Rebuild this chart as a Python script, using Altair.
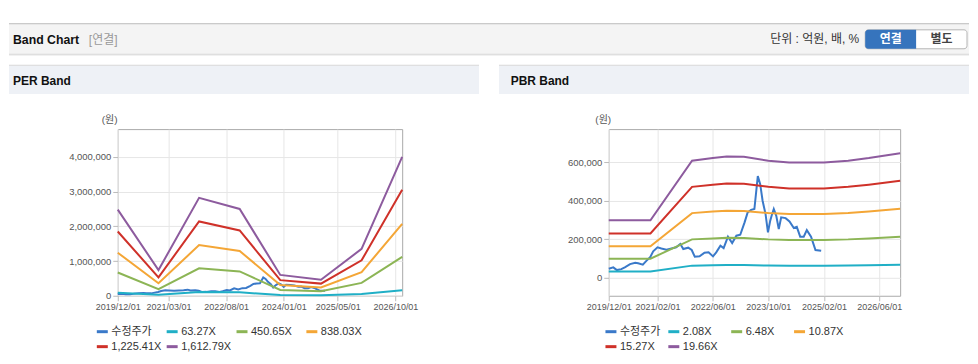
import altair as alt
import pandas as pd

FONT = "Liberation Sans, Noto Sans CJK KR, sans-serif"

# ---------------- data ----------------
PRICE_LABEL = "수정주가"
PRICE_DATES = [
    "2019-12-01", "2020-01-10", "2020-02-10", "2020-03-20", "2020-04-20", "2020-06-05",
    "2020-07-20", "2020-08-15", "2020-09-25", "2020-10-28", "2020-11-28", "2020-12-25",
    "2021-02-01", "2021-03-07", "2021-04-20", "2021-06-03", "2021-07-15", "2021-08-20",
    "2021-09-15", "2021-10-28", "2021-11-28", "2021-12-25", "2022-02-05", "2022-03-20",
    "2022-04-25", "2022-06-03", "2022-07-01", "2022-08-07", "2022-09-04", "2022-10-12",
    "2022-11-18", "2022-12-25", "2023-01-28", "2023-03-07", "2023-04-03", "2023-05-03",
    "2023-06-01", "2023-07-01", "2023-07-22", "2023-08-12", "2023-09-07", "2023-09-28",
    "2023-10-18", "2023-11-01", "2023-11-18", "2023-12-10", "2024-01-01", "2024-01-22",
    "2024-03-01", "2024-04-04", "2024-05-12", "2024-06-07", "2024-07-07", "2024-08-07",
    "2024-09-03", "2024-10-10", "2024-11-18", "2025-01-07",
]
PRICE = [
    48000, 55000, 41000, 46000, 55000, 72000,
    79000, 76000, 69000, 90000, 107000, 138000,
    159000, 153000, 147000, 153000, 159000, 176000,
    150000, 157000, 145000, 110000, 112000, 131000,
    133000, 112000, 133000, 167000, 155000, 214000,
    181000, 219000, 224000, 288000, 340000, 353000,
    357000, 528000, 486000, 400000, 331000, 236000,
    297000, 326000, 357000, 322000, 253000, 314000,
    310000, 293000, 259000, 265000, 214000, 214000,
    248000, 214000, 145000, 141000,
]

PER_LABELS = ["63.27X", "450.65X", "838.03X", "1,225.41X", "1,612.79X"]
PER_DATES = ["2019-12-01", "2020-12-01", "2021-12-01", "2022-12-01",
             "2023-12-01", "2024-12-01", "2025-12-01", "2026-12-01"]
PER_1 = [90000, 28000, 110000, 98000, 24000, 18000, 53000, 162000]
PER_2 = [670000, 190000, 790000, 700000, 165000, 130000, 370000, 1120000]
PER_3 = [1240000, 360000, 1460000, 1290000, 310000, 240000, 680000, 2070000]
PER_4 = [1850000, 530000, 2140000, 1880000, 450000, 350000, 1020000, 3050000]
PER_5 = [2480000, 740000, 2820000, 2500000, 600000, 460000, 1350000, 4000000]

PBR_LABELS = ["2.08X", "6.48X", "10.87X", "15.27X", "19.66X"]
PBR_DATES = ["2019-12-01", "2020-12-01", "2021-12-01", "2022-06-01", "2022-10-01",
             "2023-03-01", "2023-10-01", "2024-04-01", "2025-02-01", "2025-09-01",
             "2026-03-01", "2026-12-01"]
PBR_1 = [34000, 34000, 64000, 66000, 67000, 67000, 64500, 63500, 63500, 64500, 66000, 68500]
PBR_2 = [100000, 100000, 200000, 205000, 208000, 207000, 200000, 197000, 197000, 200000, 205000, 214000]
PBR_3 = [164000, 164000, 336000, 344000, 348000, 347000, 336000, 331000, 331000, 336000, 344000, 359000]
PBR_4 = [231000, 231000, 472000, 483000, 489000, 488000, 472000, 464000, 464000, 472000, 483000, 503000]
PBR_5 = [299000, 299000, 607000, 621000, 629000, 628000, 607000, 598000, 598000, 607000, 621000, 646000]

PER_XTICKS = [(2019, 12), (2021, 3), (2022, 8), (2024, 1), (2025, 5), (2026, 10)]
PBR_XTICKS = [(2019, 12), (2021, 2), (2022, 6), (2023, 10), (2025, 2), (2026, 6)]
PER_YTICKS = [0, 1000000, 2000000, 3000000, 4000000]
PBR_YTICKS = [0, 200000, 400000, 600000]

COLORS = ["#3a79c9", "#20afc6", "#8cb555", "#f4a636", "#cf3129", "#8d5b9e"]

ONE = pd.DataFrame({"k": [0]})


def build_df(band_dates, bands, labels):
    parts = [pd.DataFrame({"date": pd.to_datetime(PRICE_DATES), "value": PRICE,
                           "series": PRICE_LABEL})]
    for vals, lab in zip(bands, labels):
        parts.append(pd.DataFrame({"date": pd.to_datetime(band_dates), "value": vals,
                                   "series": lab}))
    return pd.concat(parts, ignore_index=True)


def rect(x1, x2, y1, y2, fill, **kw):
    return alt.Chart(ONE).mark_rect(fill=fill, **kw).encode(
        x=alt.value(x1), x2=alt.value(x2), y=alt.value(y1), y2=alt.value(y2))


def text(x, y, s, size=12, color="#111", weight="normal", align="left"):
    return alt.Chart(ONE).mark_text(text=s, fontSize=size, color=color, fontWeight=weight,
                                    align=align, baseline="middle", font=FONT).encode(
        x=alt.value(x), y=alt.value(y))


def lines(df, labels, width, ydomain, yticks, xticks, title_x, legend_x, col_pad):
    domain = [PRICE_LABEL] + labels
    return alt.Chart(df).mark_line(strokeWidth=2).encode(
        x=alt.X("date:T", title=None,
                scale=alt.Scale(domain=[alt.DateTime(year=2019, month=12, date=1),
                                        alt.DateTime(year=2026, month=12, date=1)]),
                axis=alt.Axis(values=[alt.DateTime(year=y, month=m, date=1) for y, m in xticks],
                              format="%Y/%m/%d", labelOverlap=False, labelFlush=False)),
        y=alt.Y("value:Q",
                scale=alt.Scale(domain=ydomain, nice=False, zero=False),
                axis=alt.Axis(values=yticks, format=",.0f", title="(원)", titleAngle=0,
                              labelFontSize=9.5,
                              titleX=title_x, titleY=-10, titleAlign="center",
                              titleBaseline="middle", titleFontSize=10,
                              titleFontWeight="normal", titleColor="#555")),
        color=alt.Color("series:N", sort=domain,
                        scale=alt.Scale(domain=domain, range=COLORS),
                        legend=alt.Legend(orient="none", legendX=legend_x, legendY=196,
                                          direction="horizontal",
                                          columns=4, gridAlign="all", symbolType="stroke",
                                          symbolSize=121, symbolStrokeWidth=3,
                                          labelFontSize=11, labelFont=FONT,
                                          labelColor="#333", labelOffset=2,
                                          columnPadding=col_pad, rowPadding=2, padding=0,
                                          title=None)),
    ).properties(width=width, height=167)


# left plot origin on page: (117, 128); right plot origin: (609, 128)
per_df = build_df(PER_DATES, [PER_1, PER_2, PER_3, PER_4, PER_5], PER_LABELS)
pbr_df = build_df(PBR_DATES, [PBR_1, PBR_2, PBR_3, PBR_4, PBR_5], PBR_LABELS)

left_decor = [
    rect(-109, 853, -105, -75.5, "#f4f4f4"),
    rect(-109, 853, -106, -105, "#b8b8b8"),
    rect(-109, 853, -75.5, -74.5, "#cfcfcf"),
    rect(-109, 853, -74.5, -73.5, "#ececec"),
    text(-105, -89.5, "Band Chart", size=12.3, weight="bold"),
    text(-29, -89.5, "[연결]", size=12, color="#999"),
    text(743, -90, "단위 : 억원, 배, %", size=12, color="#333", align="right"),
    rect(749, 851, -99.5, -80.5, "#ffffff", stroke="#b5b5b5", strokeWidth=1,
         cornerRadius=3),
    rect(749, 800, -99.5, -80.5, "#3674bd", cornerRadiusTopLeft=3,
         cornerRadiusBottomLeft=3),
    text(774.5, -90, "연결", size=12, color="#ffffff", weight="bold", align="center"),
    text(825.5, -90, "별도", size=12, color="#444", weight="bold", align="center"),
    rect(-109, 362, -63.5, -35.3, "#eef1f6"),
    rect(-109, 362, -64.5, -63.5, "#d6d6d6"),
    text(-105, -48, "PER Band", size=12, weight="bold"),
]

right_decor = [
    rect(-110, 361, -63.5, -35.3, "#eef1f6"),
    rect(-110, 361, -64.5, -63.5, "#d6d6d6"),
    text(-98.3, -48, "PBR Band", size=12, weight="bold"),
]

left = alt.layer(*left_decor,
                 lines(per_df, PER_LABELS, 285, [0, 4800000], PER_YTICKS, PER_XTICKS,
                       -8.7, -22.5, -2))
right = alt.layer(*right_decor,
                  lines(pbr_df, PBR_LABELS, 292, [-92000, 771000], PBR_YTICKS, PBR_XTICKS,
                        -6, -4.8, 1))

chart = alt.hconcat(left, right, spacing=207, bounds="flush").resolve_scale(
    color="independent", x="independent", y="independent"
).resolve_legend(color="independent").properties(
    padding={"left": 0, "top": 14, "right": 0, "bottom": 0}
).configure_view(
    stroke="#aaaaaa", strokeWidth=1
).configure_axis(
    labelFont=FONT, labelFontSize=9, labelColor="#555", tickColor="#bbbbbb",
    tickSize=5, gridColor="#e6e6e6", domain=False, labelPadding=2, titleFont=FONT
)

chart.save("out.html", embed_options={"renderer": "svg", "actions": False})
